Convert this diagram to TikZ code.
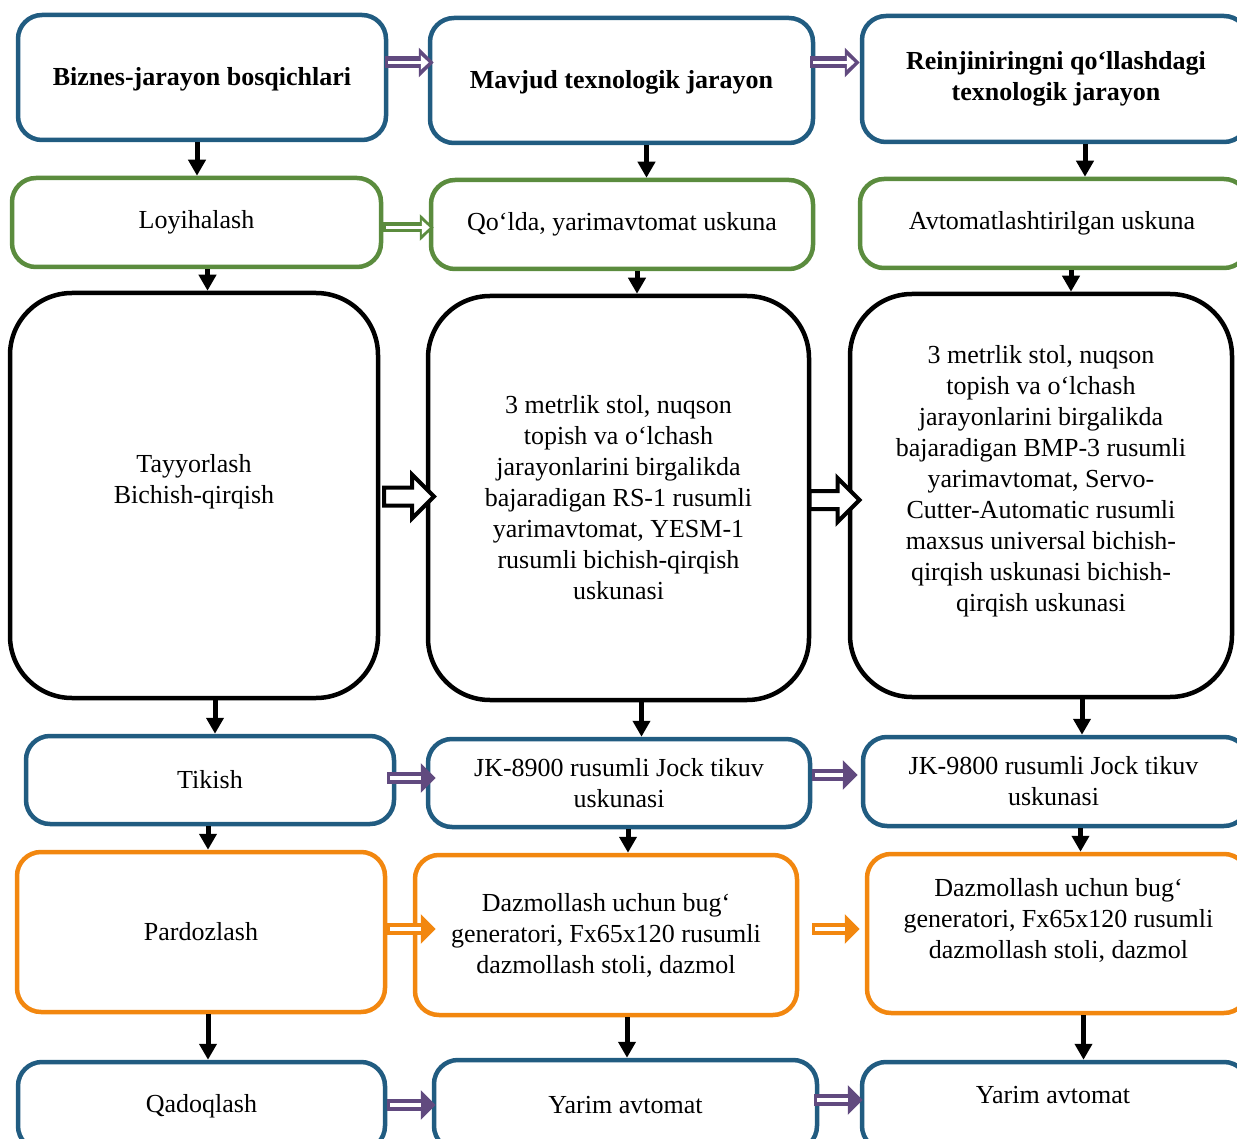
\documentclass[tikz,border=0pt]{standalone}
\usepackage{fontspec}
\setmainfont{Liberation Serif}
\usetikzlibrary{arrows.meta,fit,shapes.arrows}
\definecolor{cblue}{HTML}{215C81}
\definecolor{cgreen}{HTML}{5B8C3E}
\definecolor{corange}{HTML}{F2870F}
\definecolor{cpurple}{HTML}{614A7F}
\begin{document}
\begin{tikzpicture}[x=1pt,y=-1pt,
  box/.style={draw, line width=4.5pt, rounded corners=24pt, inner sep=0pt},
  bluebox/.style={box, draw=cblue},
  greenbox/.style={box, draw=cgreen},
  orangebox/.style={box, draw=corange},
  blackbox/.style={box, draw=black, rounded corners=62pt},
  txt/.style={inner sep=0pt, align=center, font=\fontsize{26}{31}\selectfont},
  dn/.style={line width=5pt, -{Triangle[length=16pt,width=17pt]}},
  harr/.style={color=#1, line width=12pt, -{Triangle[length=15pt,width=29pt]},
    postaction={draw=white, line width=3.5pt, -, shorten >=15pt, shorten <=3pt}},
  harrh/.style={color=#1, line width=12pt, -{Triangle[length=15pt,width=29pt]},
    postaction={draw=white, line width=3.5pt, -{Triangle[length=8pt,width=14pt]}, shorten >=5pt, shorten <=3pt}},
  garr/.style={color=cgreen, line width=10pt, -{Triangle[length=14pt,width=26pt]},
    postaction={draw=white, line width=3pt, -{Triangle[length=8pt,width=14pt]}, shorten >=4pt, shorten <=3pt}},
  bigarrow/.style={single arrow, draw=black, fill=white, line width=4pt, inner sep=7pt,
    single arrow head extend=13pt, minimum height=50pt, text width=0pt}
]
\useasboundingbox (0,0) rectangle (1237,1139);

% Row 1
\node[bluebox, fit={(18,15) (386,140)}] (B1) {};
\node[txt] (B1t) at ([yshift=-2pt]B1.center) {\textbf{Biznes-jarayon bosqichlari}};
\node[bluebox, fit={(430,18) (813,143)}] (B2) {};
\node[txt] (B2t) at ([yshift=-2pt]B2.center) {\textbf{Mavjud texnologik jarayon}};
\node[bluebox, fit={(862,16) (1248,142)}] (B3) {};
\node[txt] (B3t) at ([xshift=1pt]B3.center) {\textbf{Reinjiniringni qo‘llashdagi}\\\textbf{texnologik jarayon}};

% Row 2
\node[greenbox, fit={(12,178) (381,267)}] (G1) {};
\node[txt] (G1t) at (G1.center) {Loyihalash};
\node[greenbox, fit={(431,180) (813,269)}] (G2) {};
\node[txt] (G2t) at (G2.center) {Qo‘lda, yarimavtomat uskuna};
\node[greenbox, fit={(860,179) (1248,268)}] (G3) {};
\node[txt] (G3t) at ([xshift=-2pt]G3.center) {Avtomatlashtirilgan uskuna};

% Row 3
\node[blackbox, fit={(10,293) (378,698)}] (K1) {};
\node[txt] (K1t) at ([yshift=14pt]K1.center) {Tayyorlash\\Bichish-qirqish};
\node[blackbox, fit={(428,296) (809,700)}] (K2) {};
\node[txt] (K2t) at (K2.center) {3 metrlik stol, nuqson\\topish va o‘lchash\\jarayonlarini birgalikda\\bajaradigan RS-1 rusumli\\yarimavtomat, YESM-1\\rusumli bichish-qirqish\\uskunasi};
\node[blackbox, fit={(850,294) (1232,697)}] (K3) {};
\node[txt] (K3t) at ([yshift=14pt]K3.center) {3 metrlik stol, nuqson\\topish va o‘lchash\\jarayonlarini birgalikda\\bajaradigan BMP-3 rusumli\\yarimavtomat, Servo-\\Cutter-Automatic rusumli\\maxsus universal bichish-\\qirqish uskunasi bichish-\\qirqish uskunasi};

% Row 4
\node[bluebox, fit={(26,736) (394,824)}] (T1) {};
\node[txt] (T1t) at (T1.center) {Tikish};
\node[bluebox, fit={(428,739) (810,827)}] (T2) {};
\node[txt] (T2t) at (T2.center) {JK-8900 rusumli Jock tikuv\\uskunasi};
\node[bluebox, fit={(863,737) (1248,826)}] (T3) {};
\node[txt] (T3t) at ([xshift=-2pt]T3.center) {JK-9800 rusumli Jock tikuv\\uskunasi};

% Row 5
\node[orangebox, fit={(17,852) (385,1012)}] (O1) {};
\node[txt] (O1t) at (O1.center) {Pardozlash};
\node[orangebox, fit={(415,855) (797,1015)}] (O2) {};
\node[txt] (O2t) at (O2.center) {Dazmollash uchun bug‘\\generatori, Fx65x120 rusumli\\dazmollash stoli, dazmol};
\node[orangebox, fit={(867,854) (1248,1013)}] (O3) {};
\node[txt] (O3t) at ([yshift=13pt,xshift=1pt]O3.center) {Dazmollash uchun bug‘\\generatori, Fx65x120 rusumli\\dazmollash stoli, dazmol};

% Row 6
\node[bluebox, fit={(18,1062) (385,1150)}] (Q1) {};
\node[txt] (Q1t) at (Q1.center) {Qadoqlash};
\node[bluebox, fit={(434,1060) (817,1150)}] (Q2) {};
\node[txt] (Q2t) at (Q2.center) {Yarim avtomat};
\node[bluebox, fit={(862,1062) (1248,1150)}] (Q3) {};
\node[txt] (Q3t) at ([yshift=11pt,xshift=-2pt]Q3.center) {Yarim avtomat};

% Horizontal arrows
\draw[harrh=cpurple] ([xshift=-3pt,yshift=15pt]B1.east) -- ([xshift=6pt,yshift=15pt]B1.east -| B2.west);
\draw[harrh=cpurple] ([xshift=-5pt,yshift=18pt]B2.east) -- ([yshift=18pt]B2.east -| B3.west);
\draw[garr] ([yshift=-5pt]G1.east) -- ([xshift=5pt,yshift=-5pt]G1.east -| G2.west);
\path ([xshift=0pt,yshift=-1pt]K1.east) -- ([xshift=3pt,yshift=-1pt]K1.east -| K2.west) node[midway, bigarrow] (KA1) {};
\path ([xshift=-5pt,yshift=-2pt]K2.east) -- ([xshift=6pt,yshift=-2pt]K2.east -| K3.west) node[midway, bigarrow] (KA2) {};
\draw[harr=cpurple] ([xshift=-9pt,yshift=2pt]T1.east) -- ([xshift=10pt,yshift=2pt]T1.east -| T2.west);
\draw[harr=cpurple] ([yshift=8pt]T2.east) -- ([xshift=-3pt,yshift=8pt]T2.east -| T3.west);
\draw[harr=corange] ([yshift=3pt]O1.east) -- ([xshift=23pt,yshift=3pt]O1.east -| O2.west);
\draw[harr=corange] ([xshift=13pt,yshift=6pt]O2.east) -- ([xshift=-5pt,yshift=6pt]O2.east -| O3.west);
\draw[harr=cpurple] ([yshift=1pt]Q1.east) -- ([xshift=4pt,yshift=1pt]Q1.east -| Q2.west);
\draw[harr=cpurple] ([xshift=-5pt,yshift=5pt]Q2.east) -- ([xshift=3pt,yshift=5pt]Q2.east -| Q3.west);

% Vertical arrows
\draw[dn] ([xshift=-5pt]B1.south) -- ([xshift=-5pt]B1.south |- G1.north);
\draw[dn] ([xshift=25pt]B2.south) -- ([xshift=25pt]B2.south |- G2.north);
\draw[dn] ([xshift=30pt]B3.south) -- ([xshift=30pt]B3.south |- G3.north);
\draw[dn] ([xshift=11pt]G1.south) -- ([xshift=11pt]G1.south |- K1.north);
\draw[dn] ([xshift=15pt]G2.south) -- ([xshift=15pt]G2.south |- K2.north);
\draw[dn] ([xshift=17pt]G3.south) -- ([xshift=17pt]G3.south |- K3.north);
\draw[dn] ([xshift=21pt]K1.south) -- ([xshift=21pt]K1.south |- T1.north);
\draw[dn] ([xshift=23pt]K2.south) -- ([xshift=23pt]K2.south |- T2.north);
\draw[dn] ([xshift=41pt]K3.south) -- ([xshift=41pt]K3.south |- T3.north);
\draw[dn] ([xshift=-2pt]T1.south) -- ([xshift=-2pt]T1.south |- O1.north);
\draw[dn] ([xshift=9pt]T2.south) -- ([xshift=9pt]T2.south |- O2.north);
\draw[dn] ([xshift=25pt]T3.south) -- ([xshift=25pt]T3.south |- O3.north);
\draw[dn] ([xshift=7pt]O1.south) -- ([xshift=7pt]O1.south |- Q1.north);
\draw[dn] ([xshift=21pt]O2.south) -- ([xshift=21pt]O2.south |- Q2.north);
\draw[dn] ([xshift=26pt]O3.south) -- ([xshift=26pt]O3.south |- Q3.north);
\end{tikzpicture}
\end{document}
